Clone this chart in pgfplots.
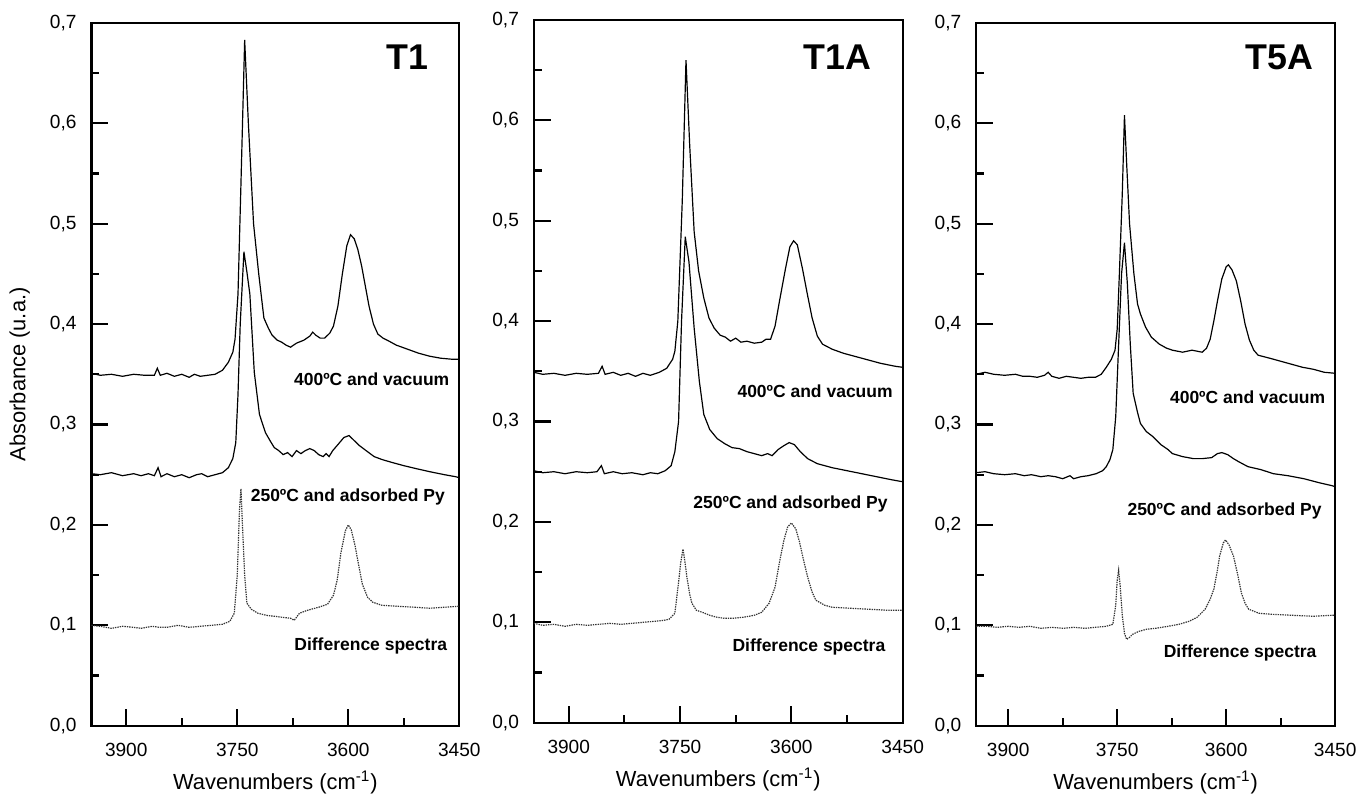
\documentclass[border=0pt]{standalone}
\usepackage{fontspec}
\setmainfont{Liberation Sans}
\usepackage{pgfplots}
\pgfplotsset{compat=1.18}

\pgfplotsset{
  spectrum/.style={
    scale only axis, height=353.5pt,
    x dir=reverse, ymin=0, ymax=0.7,
    xtick={3450,3600,3750,3900}, minor x tick num=1,
    ytick={0,0.1,0.2,0.3,0.4,0.5,0.6,0.7}, minor y tick num=1,
    tick align=inside, xtick pos=bottom, ytick pos=left,
    major tick length=8.5pt, minor tick length=4pt,
    tick style={black, line width=1.1pt},
    axis line style={line width=1.1pt},
    /pgf/number format/assume math mode=true,
    tick label style={font=\fontsize{9.6}{11}\selectfont},
    xticklabel style={/pgf/number format/1000 sep={}, yshift=-5pt},
    yticklabel style={/pgf/number format/fixed, /pgf/number format/fixed zerofill,
      /pgf/number format/precision=1, /pgf/number format/use comma, xshift=-4pt},
    xlabel={Wavenumbers (cm\textsuperscript{-1})},
    xlabel style={font=\fontsize{11}{12}\selectfont,
      at={(axis description cs:0.5,-0.091)}, anchor=base},
  },
  spec/.style={black, line width=0.6pt},
  diffs/.style={black!80, line width=0.6pt, dash pattern=on 0.7pt off 0.5pt},
}
\tikzset{
  tag/.style={anchor=base east, font=\bfseries\fontsize{18}{20}\selectfont},
  lab/.style={anchor=base east, font=\bfseries\fontsize{8.8}{10}\selectfont},
}

\begin{document}
\begin{tikzpicture}
\path (0,0) rectangle (681.5pt,400pt);

% ---------- T1 ----------
\begin{axis}[spectrum, at={(46pt,35pt)}, anchor=south west,
  width=185pt, xmin=3450, xmax=3947,
  ylabel={Absorbance (u.a.)},
  ylabel style={font=\fontsize{11}{12}\selectfont,
    at={(axis description cs:-0.195,0.5)}, anchor=center},
]
\addplot[spec] coordinates {
 (3947,0.351) (3935,0.349) (3920,0.350) (3905,0.348) (3890,0.350) (3875,0.349)
 (3862,0.349) (3858,0.356) (3854,0.349) (3845,0.351) (3835,0.348) (3825,0.350)
 (3815,0.347) (3808,0.350) (3800,0.348) (3790,0.349) (3780,0.350) (3770,0.354)
 (3762,0.362) (3756,0.372) (3753,0.385) (3749,0.430) (3745,0.540) (3740,0.683)
 (3735,0.600) (3728,0.500) (3721,0.450) (3714,0.406) (3708,0.396) (3703,0.389)
 (3696,0.384) (3690,0.382) (3684,0.379) (3678,0.377) (3670,0.381) (3660,0.384)
 (3652,0.388) (3648,0.392) (3644,0.389) (3638,0.386) (3632,0.386) (3625,0.391)
 (3620,0.398) (3614,0.418) (3608,0.450) (3602,0.478) (3597,0.489) (3592,0.485)
 (3587,0.474) (3582,0.458) (3577,0.438) (3572,0.418) (3566,0.400) (3560,0.390)
 (3553,0.386) (3545,0.383) (3535,0.379) (3520,0.375) (3505,0.371) (3490,0.368)
 (3475,0.366) (3460,0.365) (3450,0.365)
};
\addplot[spec] coordinates {
 (3947,0.251) (3935,0.250) (3920,0.252) (3905,0.249) (3890,0.251) (3880,0.249)
 (3870,0.251) (3862,0.249) (3857,0.257) (3853,0.248) (3845,0.251) (3835,0.248)
 (3825,0.250) (3815,0.247) (3805,0.250) (3798,0.251) (3790,0.248) (3780,0.250)
 (3770,0.252) (3762,0.257) (3756,0.266) (3752,0.282) (3749,0.330) (3746,0.400)
 (3741,0.472) (3737,0.452) (3733,0.430) (3727,0.352) (3720,0.310) (3712,0.292)
 (3705,0.283) (3700,0.277) (3694,0.274) (3688,0.270) (3682,0.272) (3676,0.268)
 (3670,0.274) (3664,0.271) (3658,0.274) (3652,0.276) (3646,0.274) (3640,0.270)
 (3634,0.268) (3630,0.271) (3626,0.268) (3621,0.274) (3614,0.280) (3606,0.287)
 (3599,0.289) (3592,0.284) (3585,0.279) (3576,0.274) (3565,0.268) (3554,0.265)
 (3540,0.262) (3525,0.259) (3508,0.256) (3490,0.253) (3470,0.250) (3455,0.248)
 (3450,0.247)
};
\addplot[diffs] coordinates {
 (3947,0.100) (3935,0.099) (3920,0.097) (3905,0.099) (3890,0.098) (3880,0.097)
 (3865,0.099) (3855,0.098) (3845,0.098) (3830,0.100) (3815,0.098) (3800,0.099)
 (3785,0.100) (3770,0.101) (3760,0.104) (3754,0.112) (3750,0.150) (3747,0.215)
 (3745,0.236) (3743,0.200) (3740,0.150) (3737,0.122) (3731,0.116) (3722,0.112)
 (3711,0.110) (3700,0.109) (3689,0.108) (3678,0.107) (3673,0.105) (3666,0.112)
 (3655,0.115) (3640,0.118) (3628,0.121) (3620,0.130) (3615,0.145) (3610,0.172)
 (3604,0.194) (3600,0.200) (3596,0.195) (3591,0.180) (3586,0.160) (3581,0.141)
 (3574,0.128) (3567,0.123) (3555,0.120) (3535,0.119) (3510,0.118) (3490,0.117)
 (3470,0.118) (3450,0.119)
};
\node[tag] at (axis description cs:0.935,0.934) {T1};
\node[lab] at (axis cs:3454,0.339) {400ºC and vacuum};
\node[lab] at (axis cs:3460,0.223) {250ºC and adsorbed Py};
\node[lab] at (axis cs:3457,0.075) {Difference spectra};
\end{axis}

% ---------- T1A ----------
\begin{axis}[spectrum, at={(268.5pt,36.5pt)}, anchor=south west,
  width=185.5pt, xmin=3450, xmax=3947,
]
\addplot[spec] coordinates {
 (3947,0.349) (3935,0.347) (3920,0.348) (3905,0.346) (3890,0.348) (3875,0.347)
 (3860,0.348) (3855,0.355) (3851,0.347) (3840,0.349) (3830,0.346) (3820,0.348)
 (3810,0.345) (3800,0.348) (3790,0.346) (3778,0.349) (3768,0.353) (3760,0.362)
 (3757,0.370) (3753,0.400) (3747,0.520) (3742,0.660) (3737,0.575) (3731,0.489)
 (3725,0.450) (3718,0.423) (3711,0.403) (3704,0.393) (3696,0.386) (3689,0.384)
 (3682,0.380) (3675,0.383) (3668,0.379) (3660,0.380) (3650,0.378) (3640,0.379)
 (3634,0.382) (3628,0.382) (3622,0.395) (3616,0.420) (3608,0.452) (3602,0.474)
 (3597,0.480) (3592,0.476) (3585,0.452) (3578,0.425) (3572,0.403) (3565,0.385)
 (3558,0.377) (3545,0.372) (3530,0.368) (3515,0.365) (3500,0.362) (3480,0.358)
 (3460,0.355) (3450,0.354)
};
\addplot[spec] coordinates {
 (3947,0.251) (3935,0.249) (3920,0.250) (3905,0.248) (3890,0.250) (3875,0.249)
 (3862,0.250) (3856,0.256) (3852,0.248) (3840,0.250) (3828,0.248) (3815,0.249)
 (3800,0.247) (3790,0.249) (3780,0.248) (3770,0.251) (3762,0.256) (3757,0.270)
 (3752,0.300) (3748,0.400) (3743,0.484) (3738,0.459) (3731,0.393) (3724,0.340)
 (3718,0.307) (3710,0.292) (3700,0.283) (3690,0.278) (3680,0.274) (3670,0.273)
 (3660,0.270) (3650,0.268) (3640,0.266) (3632,0.268) (3626,0.266) (3618,0.272)
 (3610,0.276) (3603,0.279) (3596,0.277) (3588,0.270) (3578,0.263) (3565,0.258)
 (3545,0.254) (3525,0.251) (3505,0.248) (3485,0.245) (3465,0.242) (3450,0.240)
};
\addplot[diffs] coordinates {
 (3947,0.099) (3935,0.097) (3920,0.098) (3905,0.096) (3890,0.098) (3875,0.097)
 (3860,0.098) (3845,0.099) (3830,0.098) (3815,0.099) (3800,0.100) (3785,0.101)
 (3772,0.102) (3765,0.103) (3757,0.109) (3752,0.140) (3749,0.160) (3746,0.173)
 (3743,0.158) (3741,0.146) (3737,0.128) (3734,0.119) (3728,0.112) (3720,0.110)
 (3710,0.107) (3700,0.105) (3690,0.104) (3680,0.104) (3665,0.105) (3650,0.107)
 (3640,0.110) (3630,0.119) (3622,0.135) (3616,0.160) (3610,0.182) (3605,0.195)
 (3600,0.199) (3594,0.193) (3589,0.180) (3583,0.160) (3578,0.145) (3572,0.130)
 (3567,0.122) (3555,0.117) (3545,0.115) (3520,0.114) (3495,0.113) (3470,0.112)
 (3450,0.112)
};
\node[tag] at (axis description cs:0.933,0.929) {T1A};
\node[lab] at (axis cs:3454,0.324) {400ºC and vacuum};
\node[lab] at (axis cs:3461,0.213) {250ºC and adsorbed Py};
\node[lab] at (axis cs:3464,0.071) {Difference spectra};
\end{axis}

% ---------- T5A ----------
\begin{axis}[spectrum, at={(491pt,35pt)}, anchor=south west,
  width=180.5pt, xmin=3450, xmax=3944,
]
\addplot[spec] coordinates {
 (3944,0.350) (3932,0.352) (3920,0.350) (3905,0.349) (3890,0.350) (3880,0.348)
 (3870,0.348) (3860,0.347) (3850,0.349) (3845,0.352) (3840,0.348) (3830,0.346)
 (3820,0.348) (3810,0.347) (3800,0.346) (3790,0.347) (3780,0.347) (3772,0.350)
 (3765,0.357) (3758,0.365) (3753,0.374) (3750,0.395) (3747,0.450) (3743,0.530)
 (3740,0.608) (3737,0.560) (3733,0.500) (3727,0.450) (3722,0.420) (3718,0.410)
 (3711,0.397) (3703,0.387) (3692,0.380) (3682,0.376) (3674,0.374) (3660,0.372)
 (3647,0.374) (3640,0.373) (3633,0.372) (3627,0.376) (3622,0.385) (3617,0.403)
 (3612,0.423) (3606,0.445) (3600,0.457) (3597,0.459) (3592,0.454) (3586,0.443)
 (3580,0.423) (3574,0.400) (3568,0.384) (3562,0.374) (3556,0.369) (3540,0.366)
 (3525,0.363) (3510,0.360) (3495,0.357) (3480,0.355) (3465,0.352) (3450,0.351)
};
\addplot[spec] coordinates {
 (3944,0.252) (3932,0.253) (3920,0.251) (3905,0.250) (3890,0.251) (3878,0.249)
 (3868,0.250) (3855,0.248) (3845,0.249) (3835,0.248) (3825,0.246) (3815,0.249)
 (3810,0.246) (3800,0.248) (3790,0.249) (3779,0.251) (3770,0.254) (3765,0.258)
 (3760,0.265) (3756,0.275) (3752,0.308) (3748,0.380) (3744,0.450) (3740,0.481)
 (3736,0.440) (3732,0.380) (3728,0.331) (3722,0.312) (3718,0.301) (3710,0.293)
 (3701,0.288) (3690,0.280) (3680,0.275) (3674,0.271) (3660,0.268) (3645,0.266)
 (3633,0.266) (3620,0.267) (3612,0.271) (3606,0.272) (3598,0.270) (3590,0.266)
 (3583,0.263) (3570,0.258) (3552,0.255) (3535,0.251) (3515,0.249) (3493,0.246)
 (3472,0.242) (3454,0.239) (3450,0.238)
};
\addplot[diffs] coordinates {
 (3944,0.099) (3930,0.099) (3915,0.098) (3900,0.099) (3885,0.098) (3870,0.099)
 (3855,0.097) (3840,0.098) (3825,0.097) (3810,0.098) (3795,0.097) (3780,0.098)
 (3765,0.099) (3756,0.101) (3752,0.120) (3750,0.145) (3748,0.155) (3746,0.140)
 (3743,0.110) (3740,0.092) (3737,0.086) (3733,0.088) (3729,0.091) (3720,0.094)
 (3710,0.096) (3697,0.097) (3680,0.099) (3665,0.101) (3651,0.104) (3640,0.108)
 (3629,0.116) (3622,0.126) (3617,0.136) (3612,0.155) (3609,0.169) (3604,0.182)
 (3601,0.185) (3596,0.180) (3590,0.169) (3584,0.150) (3579,0.132) (3574,0.122)
 (3569,0.116) (3555,0.112) (3538,0.111) (3510,0.110) (3480,0.109) (3454,0.110)
 (3450,0.110)
};
\node[tag] at (axis description cs:0.958,0.933) {T5A};
\node[lab] at (axis cs:3454,0.321) {400ºC and vacuum};
\node[lab] at (axis cs:3459,0.209) {250ºC and adsorbed Py};
\node[lab] at (axis cs:3466,0.068) {Difference spectra};
\end{axis}
\end{tikzpicture}
\end{document}
